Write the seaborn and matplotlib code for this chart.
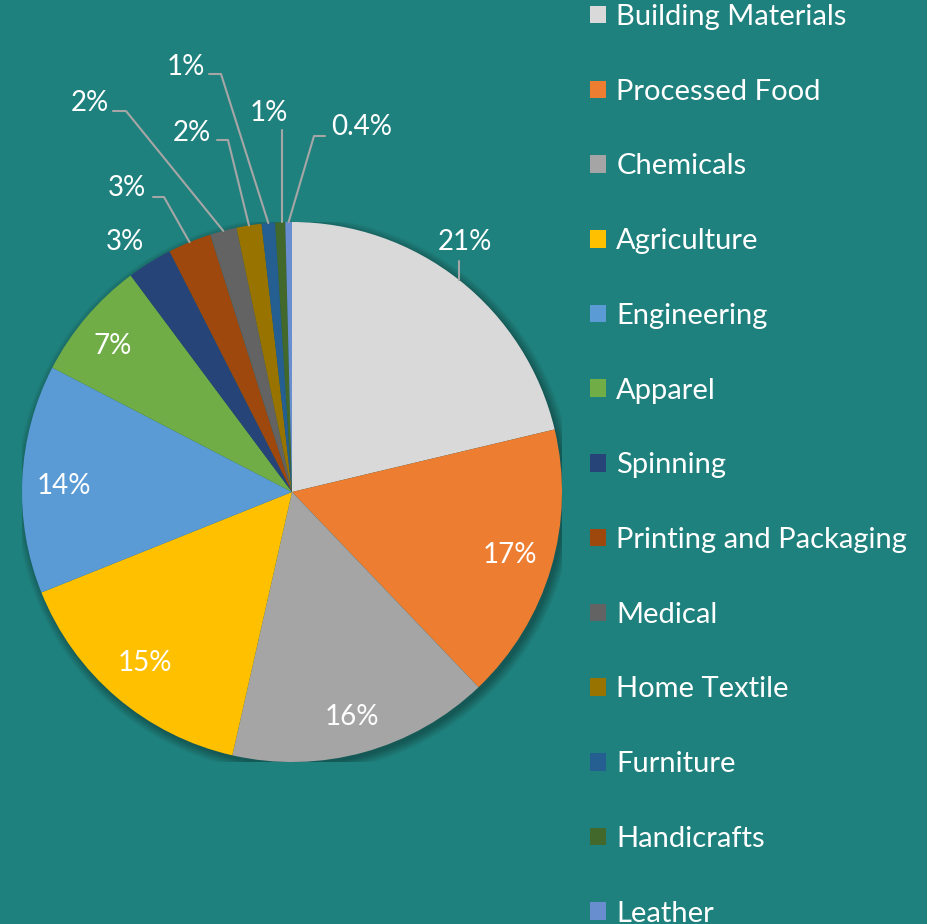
import matplotlib.pyplot as plt
import numpy as np
import seaborn as sns
from matplotlib.patches import Circle, Patch

sectors = ["Building Materials", "Processed Food", "Chemicals", "Agriculture",
           "Engineering", "Apparel", "Spinning", "Printing and Packaging",
           "Medical", "Home Textile", "Furniture", "Handicrafts", "Leather"]
shares = [21.3, 16.6, 15.7, 15.4, 13.7, 7.2, 2.7, 2.6, 1.6, 1.5, 0.8, 0.6, 0.4]
colors = ["#D9D9D9", "#ED7D31", "#A5A5A5", "#FFC000", "#5B9BD5", "#70AD47",
          "#264478", "#9E480E", "#636363", "#997300", "#255E91", "#43682B",
          "#698ED0"]

BG = "#1F817D"
FONT = "Lato"

sns.set_theme(style="white")
plt.rcParams["font.family"] = [FONT, "DejaVu Sans"]

W, H = 927, 924
CX, CY, R = 292, 492, 270   # pie centre / radius in pixels


def px(x, y):
    # pixel position -> pie data units
    return (x - CX) / R, (CY - y) / R


fig = plt.figure(figsize=(W / 100, H / 100), dpi=100, facecolor=BG)
ax = fig.add_axes([(CX - R) / W, (H - CY - R) / H, 2 * R / W, 2 * R / H])
ax.set_facecolor(BG)

# soft shadow behind the pie
for k in range(10):
    ax.add_patch(Circle((0.010, -0.012), 1.0 + 0.0035 * k, color="black",
                        alpha=0.03, lw=0, zorder=0))

wedges, _ = ax.pie(shares, colors=colors, startangle=90, counterclock=False,
                   radius=1, wedgeprops=dict(linewidth=0))
for w in wedges:
    w.set_zorder(2)

ax.set_xlim(-1, 1)
ax.set_ylim(-1, 1)
ax.set_aspect("equal")
ax.axis("off")


def fmt(v):
    return f"{v:.0f}%" if v >= 0.5 else f"{v:.1f}%"


# mid angle of every wedge (radians, matplotlib convention)
mids = [np.deg2rad((w.theta1 + w.theta2) / 2) for w in wedges]

# label text positions (px) and leader-line knee points (px); None = inside
layout = [
    ((465, 242), [(459, 261)]),
    ((510, 555), None),
    ((352, 717), None),
    ((145, 663), None),
    ((64, 486), None),
    ((113, 346), None),
    ((125, 242), []),
    ((127, 188), [(153, 197), (164, 197)]),
    ((90, 103), [(113, 111), (126, 111)]),
    ((192, 133), [(217, 140), (228, 140)]),
    ((186, 67), [(209, 74), (221, 74)]),
    ((269, 113), [(282, 130)]),
    ((362, 127), [(325, 136), (314, 136)]),
]

for v, m, (tpos, knees) in zip(shares, mids, layout):
    tx, ty = px(*tpos)
    ax.text(tx, ty, fmt(v), ha="center", va="center", color="white",
            fontsize=20, clip_on=False, zorder=5)
    if knees:
        pts = [px(*k) for k in knees]
        if len(pts) == 1:
            ex = pts[0][0]
            pts.append((ex, np.sqrt(max(0.0, 1 - ex ** 2))))
        else:
            pts.append((np.cos(m), np.sin(m)))
        xs, ys = zip(*pts)
        ax.plot(xs, ys, color="#A6A6A6", lw=1.5, clip_on=False, zorder=4)

handles = [Patch(facecolor=c, edgecolor="none") for c in colors]
leg = fig.legend(handles, sectors, loc="upper left",
                 bbox_to_anchor=(590 / W, 1 - 4 / H), frameon=False,
                 fontsize=21, labelcolor="white", handlelength=0.55,
                 handleheight=0.55, handletextpad=0.35, labelspacing=1.67,
                 borderaxespad=0, borderpad=0)

fig.savefig("out.png", dpi=100, facecolor=BG)
